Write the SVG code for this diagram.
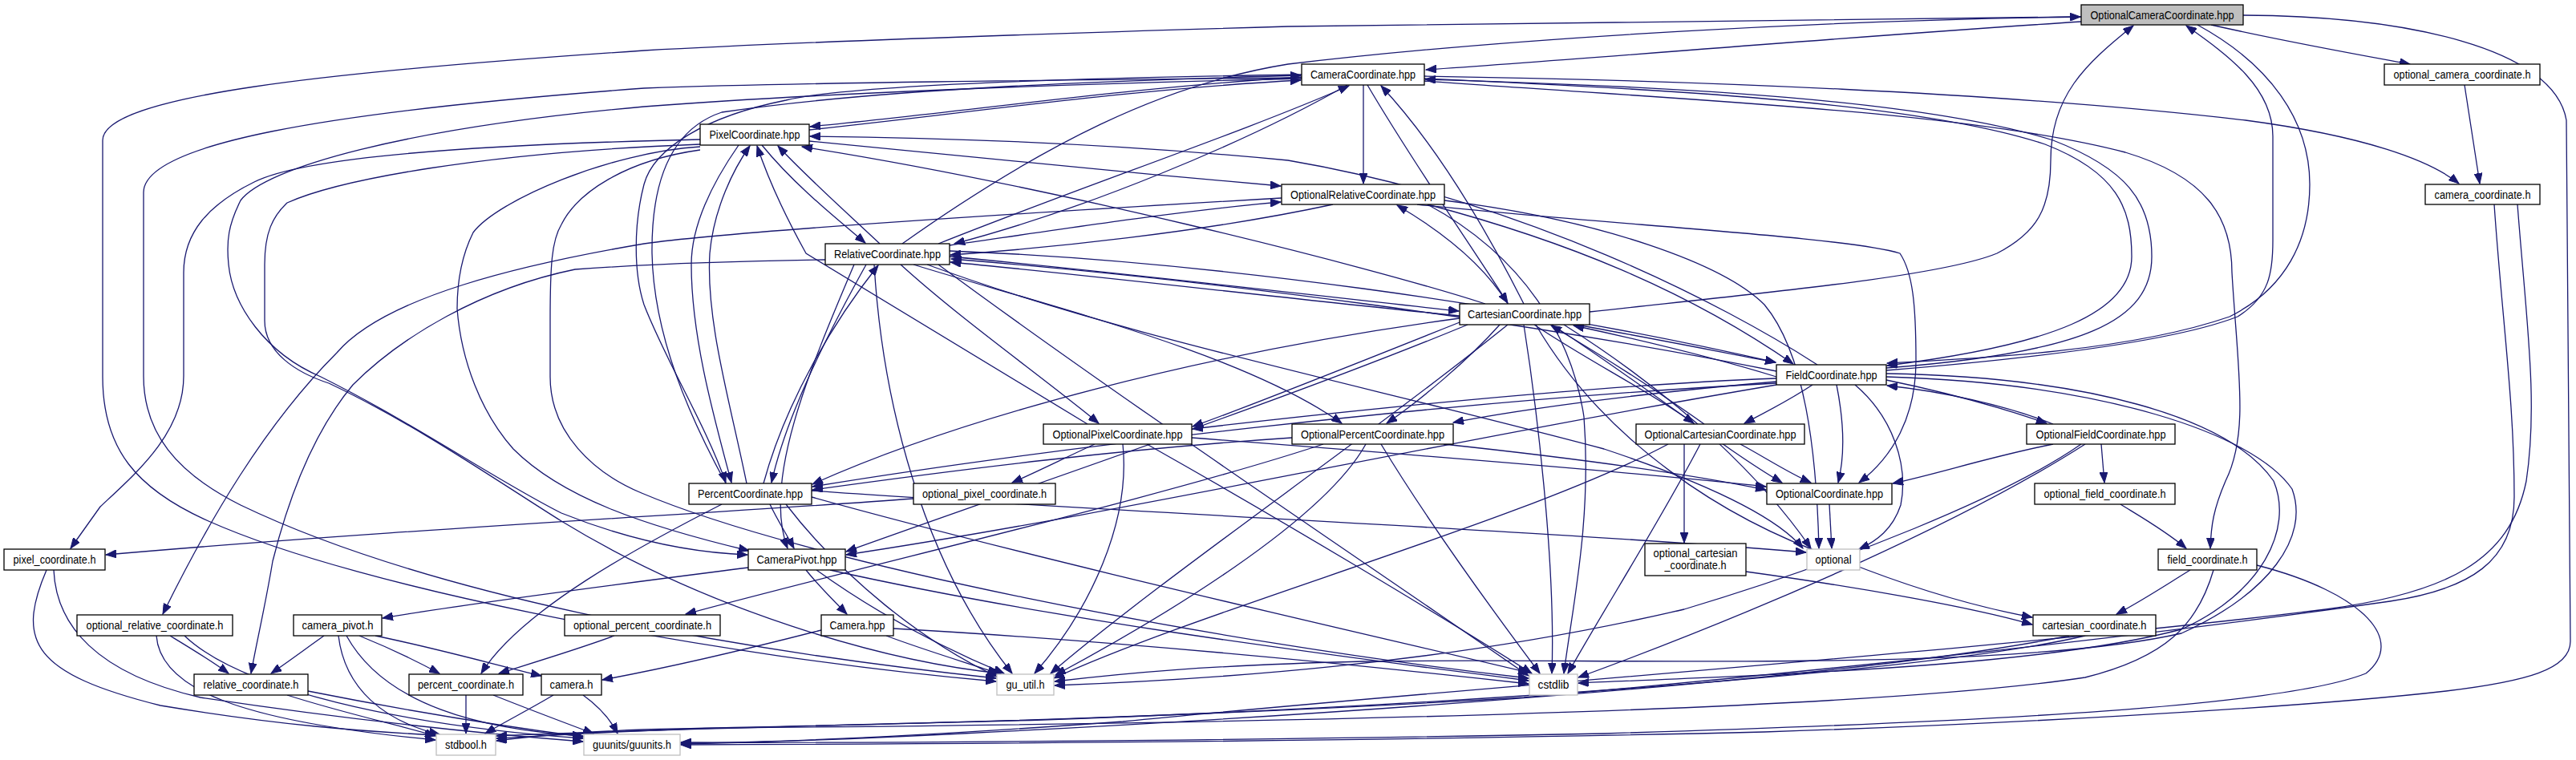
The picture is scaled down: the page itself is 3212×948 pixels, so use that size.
<svg xmlns="http://www.w3.org/2000/svg" width="3212" height="948" viewBox="0 0 3212 948">
<style>
.bg{fill:#ffffff}
.e path{fill:none;stroke:#191970;stroke-width:1.3;marker-end:url(#a)}
.n rect{fill:#ffffff;stroke:#000000;stroke-width:1.3}
.n.x rect{stroke:#bfbfbf}
.n.r rect{fill:#bfbfbf}
.n text{font-family:"Liberation Sans",Arial,Helvetica,sans-serif;font-size:14px;fill:#000000;text-anchor:middle}
</style>
<defs>
<marker id="a" markerUnits="userSpaceOnUse" markerWidth="14" markerHeight="10" refX="13" refY="5" orient="auto"><path d="M0,0 L13,5 L0,10 z" fill="#191970" stroke="#191970" stroke-width="1"/></marker>
</defs>
<rect class="bg" x="0" y="0" width="3212" height="948"/>
<g id="edges" class="e">
<path d="M2595,27 C2300,46 2000,72 1778,87"/>
<path d="M2757,31 C2850,52 2940,68 3005,80"/>
<path d="M2595,21 C2200,24 1800,28 1606,33 C1300,42 1000,52 803,63 C400,90 128,120 128,175 L128,470 C128,560 170,610 260,650 C450,735 900,820 1242,850"/>
<path d="M2797,19 C3000,20 3185,60 3200,150 L3205,800 C3205,835 3150,850 3050,862 C2850,885 2450,905 2200,913 C1700,925 1200,928 849,929"/>
<path d="M2740,31 C2830,80 2880,150 2880,230 C2880,300 2850,360 2780,395 C2650,440 2450,448 2353,453"/>
<path d="M1125,304 C1300,180 1450,105 1606,80 C1900,45 2300,25 2594,21"/>
<path d="M1982,389 C2200,365 2420,345 2490,316 C2540,290 2557,260 2557,200 C2557,120 2600,80 2660,32"/>
<path d="M2352,462 C2500,450 2700,430 2790,395 C2830,370 2834,340 2834,300 L2834,170 C2834,110 2780,70 2726,32"/>
<path d="M3073,106 L3092,229"/>
<path d="M3110,255 C3120,400 3135,500 3135,620 C3135,700 3080,735 2980,750 C2700,790 2300,835 1900,870 C1400,900 1000,905 803,910 C700,914 650,920 619,924"/>
<path d="M3139,255 C3150,400 3165,500 3150,600 C3130,700 3050,740 2900,760 C2500,810 1800,860 1400,900 C1100,922 950,926 849,927"/>
<path d="M1700,106 L1700,229"/>
<path d="M1623,96 C1400,110 1200,140 1010,158"/>
<path d="M1009,162 C1200,142 1400,112 1622,100"/>
<path d="M1680,106 C1550,180 1350,262 1190,304"/>
<path d="M1170,304 C1350,232 1550,165 1682,107"/>
<path d="M1705,106 C1760,200 1830,300 1880,378"/>
<path d="M1900,379 C1850,280 1790,180 1722,107"/>
<path d="M1776,95 C2100,100 2500,115 2800,150 C2950,170 3030,200 3066,229"/>
<path d="M1776,98 C2100,112 2400,130 2550,180 C2640,215 2658,260 2658,320 C2658,390 2560,430 2353,456"/>
<path d="M2352,459 C2600,440 2683,400 2683,320 C2683,250 2650,210 2560,175 C2400,125 2100,108 1777,99"/>
<path d="M1776,101 C2100,125 2450,138 2650,190 C2750,220 2783,270 2783,340 C2790,460 2805,540 2775,600 C2760,635 2757,655 2756,684"/>
<path d="M1623,93 C1300,98 1050,108 980,125 C880,145 815,185 803,230 C790,280 790,340 803,380 C830,450 880,530 905,602"/>
<path d="M1623,97 C1300,100 1000,103 803,110 C400,140 179,180 179,240 L179,469 C179,540 220,590 300,630 C550,750 950,815 1242,846"/>
<path d="M1623,98 C1300,105 1000,118 803,133 C500,160 330,210 300,250 C285,280 282,300 285,330 C290,380 330,440 400,470 C520,530 620,600 700,640 C800,680 880,690 932,692"/>
<path d="M950,181 C990,230 1040,270 1079,303"/>
<path d="M1097,304 C1050,260 1000,215 970,182"/>
<path d="M921,181 C880,240 862,290 862,330 C862,420 890,520 912,602"/>
<path d="M931,603 C910,500 880,400 885,316 C890,260 915,210 935,182"/>
<path d="M1009,176 C1200,195 1400,215 1597,232"/>
<path d="M873,174 C600,180 380,195 317,227 C260,255 229,290 229,340 L229,469 C229,540 170,590 125,632 L88,684"/>
<path d="M873,180 C600,190 420,225 358,253 C340,270 330,290 330,330 L330,400 C330,440 370,465 410,478 C520,530 620,600 700,650 C880,760 1100,825 1248,840"/>
<path d="M873,183 C760,190 620,250 590,290 C575,320 570,350 570,385 C575,450 600,515 640,560 C700,620 800,655 934,687"/>
<path d="M873,187 C780,200 720,240 700,280 C688,300 686,330 686,400 L686,470 C686,540 740,590 800,615 C1000,700 1500,800 1906,846"/>
<path d="M1598,247 C1200,270 900,290 803,304 C650,330 480,370 420,440 C330,530 260,650 203,766"/>
<path d="M1184,306 C1350,282 1480,262 1597,252"/>
<path d="M1662,255 C1500,290 1300,310 1185,318"/>
<path d="M1767,255 C2000,280 2300,295 2369,316 C2385,340 2389,380 2389,450 C2389,520 2360,570 2318,602"/>
<path d="M1801,250 C2000,275 2150,330 2200,380 C2250,440 2265,560 2268,684"/>
<path d="M1780,255 C1900,320 1960,420 1975,520 C1985,650 1960,760 1950,840"/>
<path d="M1184,320 C1400,340 1650,370 1819,388"/>
<path d="M1820,394 C1600,372 1350,342 1185,327"/>
<path d="M1184,313 C1500,325 1900,380 2214,452"/>
<path d="M2215,463 C1900,400 1500,348 1186,323"/>
<path d="M1123,330 C1200,400 1300,470 1370,528"/>
<path d="M1139,330 C1300,380 1550,440 1673,528"/>
<path d="M1080,330 C1030,420 980,520 962,602"/>
<path d="M952,603 C980,500 1040,400 1095,331"/>
<path d="M1029,324 C900,326 800,330 717,336 C600,360 500,420 440,480 C390,540 360,620 340,700 C330,760 320,800 313,840"/>
<path d="M1156,330 C1400,420 1700,480 2000,560 C2150,610 2220,650 2248,684"/>
<path d="M1065,330 C1010,460 950,600 982,684"/>
<path d="M1090,330 C1100,500 1150,700 1262,840"/>
<path d="M1170,330 C1400,500 1700,700 1906,843"/>
<path d="M1852,379 C1700,330 1300,230 1000,183"/>
<path d="M1880,379 C1850,330 1800,290 1742,256"/>
<path d="M1965,405 C2050,420 2150,440 2214,452"/>
<path d="M2215,470 C2150,450 2050,425 1962,406"/>
<path d="M1870,405 C1830,450 1770,500 1729,528"/>
<path d="M1825,400 C1700,450 1550,510 1487,532"/>
<path d="M1913,405 C1980,450 2060,490 2112,528"/>
<path d="M2125,529 C2070,490 2000,445 1934,406"/>
<path d="M1900,405 C1915,500 1940,700 1935,840"/>
<path d="M1915,405 C2000,550 2150,650 2300,700 C2400,740 2480,760 2534,770"/>
<path d="M1935,405 C2050,480 2150,560 2222,602"/>
<path d="M1820,397 C1500,440 1200,520 1013,604"/>
<path d="M1830,405 C1600,500 1300,600 1055,688"/>
<path d="M1880,405 C1700,550 1450,720 1310,840"/>
<path d="M1950,405 C2100,500 2200,600 2258,684"/>
<path d="M2266,455 C2150,380 1900,250 1606,200 C1400,180 1200,172 1010,170"/>
<path d="M1780,255 C1950,300 2100,360 2236,454"/>
<path d="M2215,472 C2000,480 1700,510 1487,535"/>
<path d="M2215,476 C2050,490 1900,510 1812,527"/>
<path d="M2260,480 C2230,500 2200,515 2175,528"/>
<path d="M2352,474 C2430,490 2500,510 2552,528"/>
<path d="M2560,529 C2500,505 2420,488 2353,481"/>
<path d="M2215,478 C1800,500 1300,560 1013,607"/>
<path d="M2215,480 C1800,550 1400,640 1055,692"/>
<path d="M2290,480 C2300,530 2300,570 2292,602"/>
<path d="M2352,466 C2600,470 2780,520 2835,600 C2860,660 2820,740 2720,785 C2550,830 2250,840 1968,852"/>
<path d="M2352,470 C2620,478 2810,540 2858,610 C2880,670 2830,740 2720,790 C2500,840 2000,820 1700,825 C1500,830 1400,840 1315,850"/>
<path d="M2313,480 C2360,520 2380,580 2370,630 C2360,660 2340,675 2318,685"/>
<path d="M2620,554 L2624,602"/>
<path d="M2560,554 C2480,570 2420,590 2360,603"/>
<path d="M2595,554 C2500,620 2300,700 2100,760 C1800,830 1500,848 1315,855"/>
<path d="M2600,554 C2450,650 2200,760 1968,845"/>
<path d="M2644,629 C2670,645 2700,662 2726,684"/>
<path d="M2731,711 C2700,730 2670,750 2639,766"/>
<path d="M2760,711 C2740,780 2700,820 2600,845 C2300,890 1500,903 900,908 C760,912 680,918 619,921"/>
<path d="M2814,705 C2950,740 3000,800 2950,840 C2850,880 2500,900 2000,915 C1500,925 1000,927 849,926"/>
<path d="M2600,793 C2400,840 1800,880 1300,898 C1000,906 800,910 619,918"/>
<path d="M2580,793 C2300,850 1600,895 1200,915 C1000,925 900,927 849,928"/>
<path d="M2100,554 L2100,677"/>
<path d="M2170,554 C2200,570 2230,590 2258,602"/>
<path d="M2120,554 C2070,650 2000,760 1955,840"/>
<path d="M2080,554 C1900,650 1500,760 1314,846"/>
<path d="M2177,713 C2300,730 2450,755 2534,779"/>
<path d="M1356,529 L1005,316 C985,280 960,230 944,182"/>
<path d="M1365,554 C1330,570 1290,590 1262,602"/>
<path d="M1486,546 C1800,570 2050,590 2202,607"/>
<path d="M1400,554 C1410,650 1360,760 1290,840"/>
<path d="M1430,554 C1600,650 1800,770 1910,840"/>
<path d="M1139,622 C900,640 500,660 132,692"/>
<path d="M1611,546 C1400,560 1200,585 1013,611"/>
<path d="M1800,554 C1950,570 2100,590 2202,611"/>
<path d="M1650,554 C1450,620 1100,700 855,766"/>
<path d="M1703,554 C1650,650 1450,770 1316,842"/>
<path d="M1722,554 C1780,650 1860,760 1920,840"/>
<path d="M960,629 C970,650 980,665 990,684"/>
<path d="M900,629 C800,680 650,760 600,840"/>
<path d="M980,629 C1050,720 1150,800 1243,844"/>
<path d="M1012,620 C1300,700 1700,790 1906,839"/>
<path d="M1012,612 C1400,640 1900,660 2252,689"/>
<path d="M905,603 C860,520 815,420 813,316 C812,220 840,160 900,140 C1100,110 1400,100 1622,94"/>
<path d="M933,708 C800,725 600,750 477,771"/>
<path d="M1005,711 C1020,730 1040,750 1056,766"/>
<path d="M1018,711 C1100,770 1180,810 1252,840"/>
<path d="M1035,711 C1300,770 1600,810 1906,849"/>
<path d="M1024,786 C950,805 850,830 751,848"/>
<path d="M1105,793 C1150,810 1200,825 1245,840"/>
<path d="M1114,784 C1400,800 1700,830 1906,853"/>
<path d="M58,711 C20,800 40,840 200,880 C350,905 450,912 543,917"/>
<path d="M67,711 C70,780 120,840 250,870 C450,900 600,915 727,925"/>
<path d="M212,793 C240,810 265,825 285,840"/>
<path d="M195,793 C200,860 300,900 543,923"/>
<path d="M230,793 C300,860 500,905 727,921"/>
<path d="M404,793 C380,810 360,825 338,840"/>
<path d="M422,793 C430,860 480,900 548,916"/>
<path d="M432,793 C480,880 600,910 727,918"/>
<path d="M448,793 C490,810 520,825 548,840"/>
<path d="M468,793 C550,810 620,830 675,843"/>
<path d="M766,793 C720,810 670,825 622,840"/>
<path d="M358,867 C430,890 500,905 543,918"/>
<path d="M384,862 C500,885 620,905 727,919"/>
<path d="M581,867 L581,915"/>
<path d="M615,867 C660,885 700,900 740,915"/>
<path d="M690,867 C660,885 630,900 605,915"/>
<path d="M727,867 C745,880 760,895 770,915"/>
<path d="M2281,629 L2284,684"/>
</g>
<g id="n-occ" class="n r"><rect x="2595" y="6" width="202" height="25"/><text x="2696" y="23.5" textLength="179" lengthAdjust="spacingAndGlyphs">OptionalCameraCoordinate.hpp</text></g>
<g id="n-cc" class="n"><rect x="1623" y="80" width="153" height="26"/><text x="1699.5" y="98" textLength="131" lengthAdjust="spacingAndGlyphs">CameraCoordinate.hpp</text></g>
<g id="n-ocamh" class="n"><rect x="2973" y="80" width="194" height="26"/><text x="3070" y="98" textLength="171" lengthAdjust="spacingAndGlyphs">optional_camera_coordinate.h</text></g>
<g id="n-camh" class="n"><rect x="3024" y="230" width="143" height="25"/><text x="3095.5" y="247.5" textLength="120" lengthAdjust="spacingAndGlyphs">camera_coordinate.h</text></g>
<g id="n-pc" class="n"><rect x="873" y="155" width="136" height="26"/><text x="941" y="173" textLength="113" lengthAdjust="spacingAndGlyphs">PixelCoordinate.hpp</text></g>
<g id="n-orc" class="n"><rect x="1598" y="230" width="203" height="25"/><text x="1699.5" y="247.5" textLength="181" lengthAdjust="spacingAndGlyphs">OptionalRelativeCoordinate.hpp</text></g>
<g id="n-rc" class="n"><rect x="1029" y="304" width="155" height="26"/><text x="1106.5" y="322" textLength="133" lengthAdjust="spacingAndGlyphs">RelativeCoordinate.hpp</text></g>
<g id="n-cartc" class="n"><rect x="1820" y="379" width="162" height="26"/><text x="1901" y="397" textLength="142" lengthAdjust="spacingAndGlyphs">CartesianCoordinate.hpp</text></g>
<g id="n-fc" class="n"><rect x="2215" y="455" width="137" height="25"/><text x="2283.5" y="472.5" textLength="114" lengthAdjust="spacingAndGlyphs">FieldCoordinate.hpp</text></g>
<g id="n-opxc" class="n"><rect x="1301" y="529" width="185" height="25"/><text x="1393.5" y="546.5" textLength="162" lengthAdjust="spacingAndGlyphs">OptionalPixelCoordinate.hpp</text></g>
<g id="n-opcc" class="n"><rect x="1611" y="529" width="201" height="25"/><text x="1711.5" y="546.5" textLength="179" lengthAdjust="spacingAndGlyphs">OptionalPercentCoordinate.hpp</text></g>
<g id="n-ocartc" class="n"><rect x="2040" y="529" width="210" height="25"/><text x="2145" y="546.5" textLength="189" lengthAdjust="spacingAndGlyphs">OptionalCartesianCoordinate.hpp</text></g>
<g id="n-ofc" class="n"><rect x="2527" y="529" width="185" height="25"/><text x="2619.5" y="546.5" textLength="162" lengthAdjust="spacingAndGlyphs">OptionalFieldCoordinate.hpp</text></g>
<g id="n-pcc" class="n"><rect x="859" y="603" width="153" height="26"/><text x="935.5" y="621" textLength="131" lengthAdjust="spacingAndGlyphs">PercentCoordinate.hpp</text></g>
<g id="n-opxh" class="n"><rect x="1139" y="603" width="177" height="26"/><text x="1227.5" y="621" textLength="155" lengthAdjust="spacingAndGlyphs">optional_pixel_coordinate.h</text></g>
<g id="n-oc" class="n"><rect x="2203" y="603" width="156" height="26"/><text x="2281" y="621" textLength="134" lengthAdjust="spacingAndGlyphs">OptionalCoordinate.hpp</text></g>
<g id="n-ofh" class="n"><rect x="2537" y="603" width="175" height="26"/><text x="2624.5" y="621" textLength="152" lengthAdjust="spacingAndGlyphs">optional_field_coordinate.h</text></g>
<g id="n-pxh" class="n"><rect x="5" y="685" width="126" height="26"/><text x="68" y="703" textLength="103" lengthAdjust="spacingAndGlyphs">pixel_coordinate.h</text></g>
<g id="n-cp" class="n"><rect x="933" y="685" width="121" height="26"/><text x="993.5" y="703" textLength="100" lengthAdjust="spacingAndGlyphs">CameraPivot.hpp</text></g>
<g id="n-ocarth" class="n"><rect x="2051" y="678" width="126" height="40"/><text x="2114" y="695" textLength="105" lengthAdjust="spacingAndGlyphs">optional_cartesian</text><text x="2114" y="709.5" textLength="77" lengthAdjust="spacingAndGlyphs">_coordinate.h</text></g>
<g id="n-opt" class="n x"><rect x="2253" y="685" width="66" height="26"/><text x="2286" y="703" textLength="45" lengthAdjust="spacingAndGlyphs">optional</text></g>
<g id="n-fh" class="n"><rect x="2691" y="685" width="123" height="26"/><text x="2752.5" y="703" textLength="100" lengthAdjust="spacingAndGlyphs">field_coordinate.h</text></g>
<g id="n-orh" class="n"><rect x="96" y="767" width="194" height="26"/><text x="193" y="785" textLength="171" lengthAdjust="spacingAndGlyphs">optional_relative_coordinate.h</text></g>
<g id="n-cph" class="n"><rect x="366" y="767" width="110" height="26"/><text x="421" y="785" textLength="89" lengthAdjust="spacingAndGlyphs">camera_pivot.h</text></g>
<g id="n-opch" class="n"><rect x="704" y="767" width="194" height="26"/><text x="801" y="785" textLength="172" lengthAdjust="spacingAndGlyphs">optional_percent_coordinate.h</text></g>
<g id="n-cam" class="n"><rect x="1024" y="767" width="90" height="26"/><text x="1069" y="785" textLength="69" lengthAdjust="spacingAndGlyphs">Camera.hpp</text></g>
<g id="n-carth" class="n"><rect x="2535" y="767" width="153" height="26"/><text x="2611.5" y="785" textLength="130" lengthAdjust="spacingAndGlyphs">cartesian_coordinate.h</text></g>
<g id="n-rh" class="n"><rect x="242" y="841" width="142" height="26"/><text x="313" y="859" textLength="119" lengthAdjust="spacingAndGlyphs">relative_coordinate.h</text></g>
<g id="n-pch" class="n"><rect x="510" y="841" width="142" height="26"/><text x="581" y="859" textLength="120" lengthAdjust="spacingAndGlyphs">percent_coordinate.h</text></g>
<g id="n-camh2" class="n"><rect x="675" y="841" width="75" height="26"/><text x="712.5" y="859" textLength="54" lengthAdjust="spacingAndGlyphs">camera.h</text></g>
<g id="n-gu" class="n x"><rect x="1243" y="841" width="71" height="26"/><text x="1278.5" y="859" textLength="48" lengthAdjust="spacingAndGlyphs">gu_util.h</text></g>
<g id="n-cstd" class="n x"><rect x="1907" y="841" width="60" height="26"/><text x="1937" y="859" textLength="39" lengthAdjust="spacingAndGlyphs">cstdlib</text></g>
<g id="n-sb" class="n x"><rect x="544" y="916" width="74" height="26"/><text x="581" y="934" textLength="52" lengthAdjust="spacingAndGlyphs">stdbool.h</text></g>
<g id="n-guu" class="n x"><rect x="728" y="916" width="120" height="26"/><text x="788" y="934" textLength="98" lengthAdjust="spacingAndGlyphs">guunits/guunits.h</text></g>
</svg>
